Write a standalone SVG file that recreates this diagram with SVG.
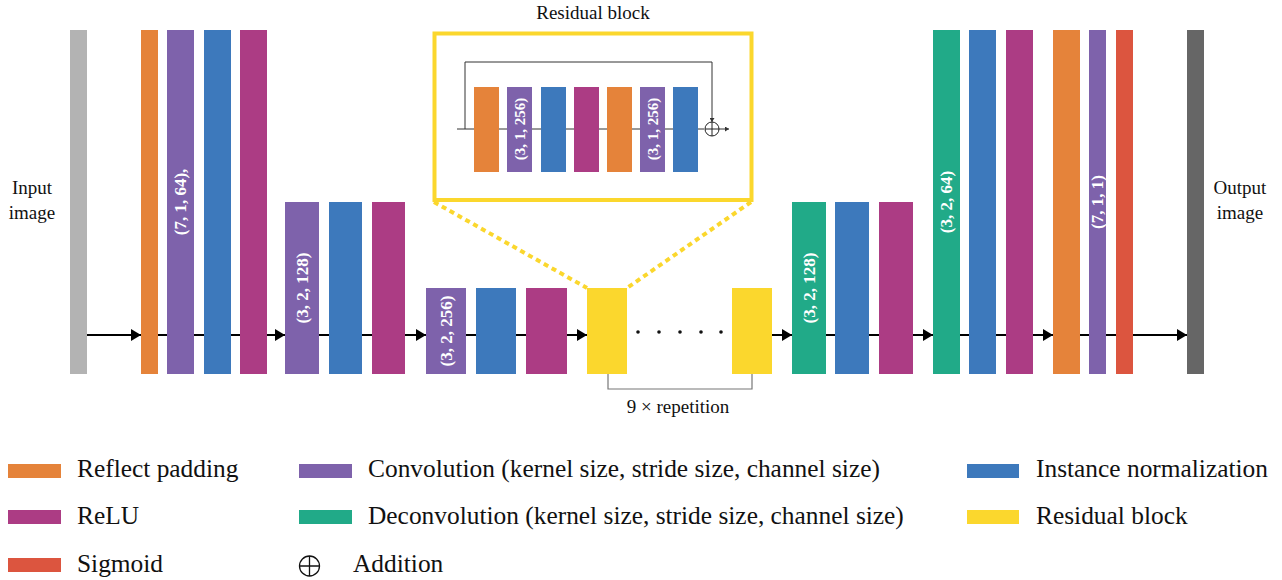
<svg xmlns="http://www.w3.org/2000/svg" width="1282" height="580" viewBox="0 0 1282 580">
<defs>
<style>
.t{font-family:"Liberation Serif","Times New Roman",serif;fill:#111}
.lbl{font-family:"Liberation Serif","Times New Roman",serif;fill:#fff;font-weight:bold;text-anchor:middle}
.gray{fill:#B3B3B3}.dgray{fill:#666666}.orange{fill:#E5833A}.purple{fill:#7E62AB}.blue{fill:#3D79BC}.mag{fill:#AC3C84}.teal{fill:#21AA88}.red{fill:#DC553F}.yellow{fill:#FBD72D}
.conn{stroke:#000;stroke-width:2;fill:none;marker-end:url(#ah)}
.thin{stroke:#333;stroke-width:1;fill:none}
</style>
<marker id="ah" markerUnits="userSpaceOnUse" markerWidth="11" markerHeight="12" refX="10" refY="6" orient="auto"><path d="M0,0 L10,6 L0,12 z" fill="#000"/></marker>
<marker id="ahs" markerUnits="userSpaceOnUse" markerWidth="5" markerHeight="5" refX="4" refY="2.5" orient="auto"><path d="M0,0 L4,2.5 L0,5 z" fill="#333"/></marker>
</defs>
<rect width="1282" height="580" fill="#fff"/>

<g id="connectors">
<path class="conn" d="M87 335 H141"/>
<path class="conn" d="M158 335 H285"/>
<path class="conn" d="M319 335 H426"/>
<path class="conn" d="M466 335 H587"/>
<path class="conn" d="M772 335 H792"/>
<path class="conn" d="M826 335 H933"/>
<path class="conn" d="M960 335 H1053"/>
<path class="conn" d="M1080 335 H1187"/>
<path d="M608 374 V389 H752 V374" stroke="#777" stroke-width="1.2" fill="none"/>
<path d="M434 202 L587 288" stroke="#FBD72D" stroke-width="4" stroke-dasharray="5 4" fill="none"/>
<path d="M751 202 L627 288" stroke="#FBD72D" stroke-width="4" stroke-dasharray="5 4" fill="none"/>
</g>

<g id="input">
<rect class="gray" x="70" y="30" width="17" height="344"/>
<text class="t" x="32" y="194" font-size="19" text-anchor="middle">Input</text>
<text class="t" x="32" y="219" font-size="19" text-anchor="middle">image</text>
</g>

<g id="stage1">
<rect class="orange" x="141" y="30" width="17" height="344"/>
<rect class="purple" x="167" y="30" width="27" height="344"/>
<text class="lbl" font-size="17" transform="translate(180.5,202) rotate(-90)" dy="0.35em">(7, 1, 64),</text>
<rect class="blue" x="204" y="30" width="27" height="344"/>
<rect class="mag" x="240" y="30" width="27" height="344"/>
</g>

<g id="stage2">
<rect class="purple" x="285" y="202" width="34" height="172"/>
<text class="lbl" font-size="17" transform="translate(302,288) rotate(-90)" dy="0.35em">(3, 2, 128)</text>
<rect class="blue" x="329" y="202" width="33" height="172"/>
<rect class="mag" x="372" y="202" width="33" height="172"/>
</g>

<g id="stage3">
<rect class="purple" x="426" y="288" width="40" height="86"/>
<text class="lbl" font-size="17" transform="translate(446,331) rotate(-90)" dy="0.35em">(3, 2, 256)</text>
<rect class="blue" x="476" y="288" width="40" height="86"/>
<rect class="mag" x="526" y="288" width="41" height="86"/>
</g>

<g id="residuals">
<rect class="yellow" x="587" y="288" width="40" height="86"/>
<g fill="#111">
<circle cx="638" cy="332" r="1.8"/><circle cx="659" cy="332" r="1.8"/><circle cx="680" cy="332" r="1.8"/><circle cx="701" cy="332" r="1.8"/><circle cx="721" cy="332" r="1.8"/>
</g>
<rect class="yellow" x="732" y="288" width="40" height="86"/>
<text class="t" x="678" y="413" font-size="19" text-anchor="middle">9 × repetition</text>
</g>

<g id="residual-detail">
<text class="t" x="593" y="19" font-size="19" text-anchor="middle">Residual block</text>
<rect x="434.5" y="33.5" width="317" height="166.5" fill="#fff" stroke="#FBD72D" stroke-width="4"/>
<path class="thin" d="M457 129 H704"/>
<path class="thin" d="M465 129 V62 H712 V122" marker-end="url(#ahs)"/>
<path class="thin" d="M719 129 H729" marker-end="url(#ahs)"/>
<circle cx="712" cy="129" r="7" fill="none" stroke="#222" stroke-width="1"/>
<path d="M705 129 H719 M712 122 V136" stroke="#222" stroke-width="1"/>
<rect class="orange" x="474" y="87" width="25" height="85"/>
<rect class="purple" x="507" y="87" width="25" height="85"/>
<text class="lbl" font-size="15" transform="translate(519.5,129) rotate(-90)" dy="0.35em">(3, 1, 256)</text>
<rect class="blue" x="541" y="87" width="25" height="85"/>
<rect class="mag" x="574" y="87" width="25" height="85"/>
<rect class="orange" x="607" y="87" width="25" height="85"/>
<rect class="purple" x="640" y="87" width="25" height="85"/>
<text class="lbl" font-size="15" transform="translate(652.5,129) rotate(-90)" dy="0.35em">(3, 1, 256)</text>
<rect class="blue" x="673" y="87" width="25" height="85"/>
</g>

<g id="stage4">
<rect class="teal" x="792" y="202" width="34" height="172"/>
<text class="lbl" font-size="17" transform="translate(809,288) rotate(-90)" dy="0.35em">(3, 2, 128)</text>
<rect class="blue" x="835" y="202" width="34" height="172"/>
<rect class="mag" x="879" y="202" width="34" height="172"/>
</g>

<g id="stage5">
<rect class="teal" x="933" y="30" width="27" height="344"/>
<text class="lbl" font-size="17" transform="translate(946.5,202) rotate(-90)" dy="0.35em">(3, 2, 64)</text>
<rect class="blue" x="969" y="30" width="27" height="344"/>
<rect class="mag" x="1006" y="30" width="27" height="344"/>
</g>

<g id="stage6">
<rect class="orange" x="1053" y="30" width="27" height="344"/>
<rect class="purple" x="1089" y="30" width="17" height="344"/>
<text class="lbl" font-size="17" transform="translate(1097.5,202) rotate(-90)" dy="0.35em">(7, 1, 1)</text>
<rect class="red" x="1116" y="30" width="17" height="344"/>
</g>

<g id="output">
<rect class="dgray" x="1187" y="30" width="17" height="344"/>
<text class="t" x="1240" y="194" font-size="19" text-anchor="middle">Output</text>
<text class="t" x="1240" y="219" font-size="19" text-anchor="middle">image</text>
</g>

<g id="legend">
<rect class="orange" x="8" y="464" width="53" height="14"/>
<text class="t" x="77" y="477" font-size="25.4">Reflect padding</text>
<rect class="mag" x="8" y="510" width="53" height="14"/>
<text class="t" x="77" y="524" font-size="25.4">ReLU</text>
<rect class="red" x="8" y="558" width="53" height="14"/>
<text class="t" x="77" y="572" font-size="25.4">Sigmoid</text>
<rect class="purple" x="299" y="464" width="53" height="14"/>
<text class="t" x="368" y="477" font-size="25.4">Convolution (kernel size, stride size, channel size)</text>
<rect class="teal" x="299" y="510" width="53" height="14"/>
<text class="t" x="368" y="524" font-size="25.4">Deconvolution (kernel size, stride size, channel size)</text>
<circle cx="309.5" cy="566" r="10" fill="none" stroke="#111" stroke-width="1.3"/>
<path d="M299.5 566 H319.5 M309.5 556 V576" stroke="#111" stroke-width="1.3"/>
<text class="t" x="353" y="572" font-size="25.4">Addition</text>
<rect class="blue" x="967" y="464" width="52" height="14"/>
<text class="t" x="1036" y="477" font-size="25.4">Instance normalization</text>
<rect class="yellow" x="967" y="510" width="52" height="14"/>
<text class="t" x="1036" y="524" font-size="25.4">Residual block</text>
</g>
</svg>
